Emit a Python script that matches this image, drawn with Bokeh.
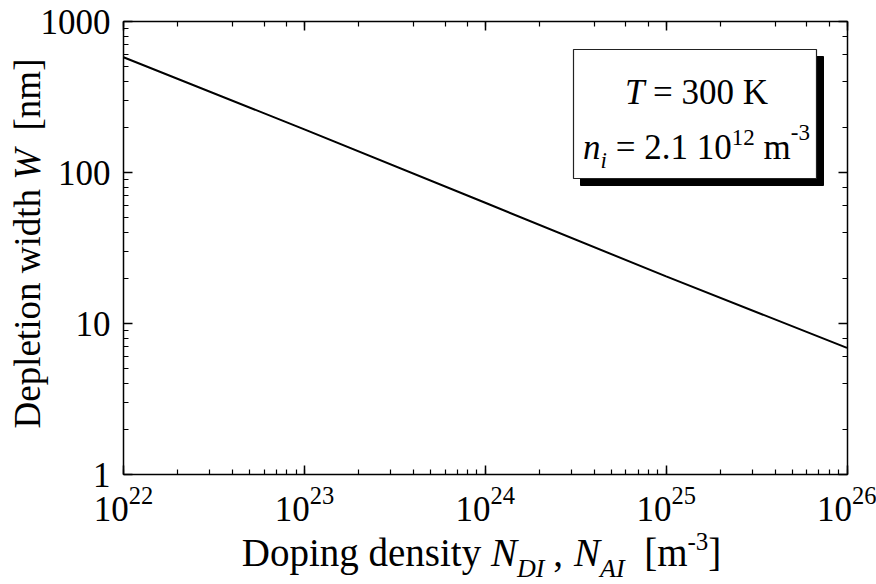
import math
from bokeh.plotting import figure
from bokeh.models import (LogAxis, Label, BoxAnnotation, PrintfTickFormatter,
                          CustomJSTickFormatter, ColumnDataSource, Range1d)
from bokeh.embed import file_html
from bokeh.resources import INLINE

# ---- data ----
doping = [1e22, 1e23, 1e24, 1e25, 1e26]          # N_DI, N_AI [m^-3]
width_nm = [580, 193, 63, 20.5, 6.9]              # depletion width W [nm]
x_lim = [1e22, 1e26]
y_lim = [1, 1000]

FONT = "Liberation Serif"

# ---- layout: canvas and the pixel box of the plotting area ----
CW, CH = 876, 584
PL, PR, PT, PB = 123, 846.5, 21, 474

lx0, lx1 = math.log10(x_lim[0]), math.log10(x_lim[1])
ly0, ly1 = math.log10(y_lim[0]), math.log10(y_lim[1])
pdx = (PR - PL) / (lx1 - lx0)
pdy = (PB - PT) / (ly1 - ly0)
xr = Range1d(10 ** (lx0 - PL / pdx), 10 ** (lx1 + (CW - PR) / pdx))
yr = Range1d(10 ** (ly0 - (CH - PB) / pdy), 10 ** (ly1 + PT / pdy))

p = figure(width=CW, height=CH, x_axis_type="log", y_axis_type="log",
           x_range=xr, y_range=yr, output_backend="svg", toolbar_location=None,
           min_border=0)
p.title.visible = False
p.background_fill_color = "white"
p.border_fill_color = "white"
p.grid.visible = False
p.outline_line_color = None

src = ColumnDataSource(dict(x=doping, y=width_nm))
p.line("x", "y", source=src, line_color="black", line_width=2)

def style_axis(ax, labels=True):
    ax.axis_line_color = "black"
    ax.axis_line_width = 1.5
    ax.major_tick_in = 9
    ax.major_tick_out = 0
    ax.minor_tick_in = 5
    ax.minor_tick_out = 0
    ax.major_tick_line_color = "black"
    ax.minor_tick_line_color = "black"
    ax.major_tick_line_width = 1.5
    ax.minor_tick_line_width = 1.2
    if labels:
        ax.major_label_text_font = FONT
        ax.major_label_text_font_size = "35px"
        ax.major_label_text_color = "black"
    else:
        ax.formatter = CustomJSTickFormatter(code="return ''")
        ax.major_label_text_font_size = "1px"
        ax.major_label_standoff = 0

xa = p.xaxis[0]
ya = p.yaxis[0]
style_axis(xa)
style_axis(ya)
xa.fixed_location = y_lim[0]
xa.bounds = (x_lim[0], x_lim[1])
xa.major_label_standoff = 12
ya.fixed_location = x_lim[0]
ya.bounds = (y_lim[0], y_lim[1])
ya.major_label_standoff = 13
ya.formatter = PrintfTickFormatter(format="%d")

top = LogAxis(fixed_location=y_lim[1], bounds=(x_lim[0], x_lim[1]))
right = LogAxis(fixed_location=x_lim[1], bounds=(y_lim[0], y_lim[1]))
style_axis(top, labels=False)
style_axis(right, labels=False)
p.add_layout(top, "above")
p.add_layout(right, "right")

# ---- rich text helpers (Times-like advance widths, per 1000 em) ----
REG = {' ': 250, ',': 250, '-': 333, '.': 250, '[': 333, ']': 333, '=': 564,
       'D': 722, 'K': 722, 'W': 944, 'a': 444, 'd': 500, 'e': 444, 'g': 500, 'h': 500,
       'i': 278, 'l': 278, 'm': 778, 'n': 500, 'o': 500, 'p': 500, 's': 389, 't': 278,
       'w': 722, 'y': 500}
ITA = {'N': 667, 'D': 722, 'I': 333, 'A': 611, 'W': 833, 'T': 556, 'n': 500, 'i': 278}

def tw(text, size, italic):
    table = ITA if italic else REG
    return sum(table.get(c, 500) for c in text) * size / 1000.0

BASE_FIX = 0.38  # observed shift of Bokeh's alphabetic anchor, in em

def rich(pieces, center, base, vertical=False):
    """pieces: (text, size, italic, raise, gap). center along the text direction,
    base = baseline; both in canvas pixels (y measured downwards)."""
    total = sum(tw(t, s, it) + g for t, s, it, r, g in pieces)
    pos = center - total / 2.0 if not vertical else center + total / 2.0
    for t, s, it, r, g in pieces:
        lead = tw(t[:len(t) - len(t.lstrip())], s, it) + g
        txt = t.strip()
        fix = BASE_FIX * s
        if vertical:
            pos -= lead
            lab = Label(x=base - r - fix, y=CH - pos, x_units="screen", y_units="screen",
                        angle=math.pi / 2)
            pos -= tw(t, s, it) - lead + g
        else:
            pos += lead
            lab = Label(x=pos, y=CH - base + r + fix, x_units="screen", y_units="screen")
            pos += tw(t, s, it) - lead + g
        lab.text = txt
        lab.text_font = FONT
        lab.text_font_size = f"{s}px"
        lab.text_font_style = "italic" if it else "normal"
        lab.text_color = "black"
        lab.text_align = "left"
        lab.text_baseline = "alphabetic"
        p.add_layout(lab)

# x-axis label
rich([("Doping density ", 39, False, 0, 0),
      ("N", 39, True, 0, 0), ("DI", 26, True, -11, 0),
      (",", 39, False, 0, 9), ("N", 39, True, 0, 11), ("AI", 26, True, -11, 0),
      ("  [m", 39, False, 0, 0), ("-3", 25, False, 17, 0), ("]", 39, False, 0, 0)],
     center=481, base=567)

# y-axis label
rich([("Depletion width ", 37, False, 0, 0), ("W", 37, True, 0, 0),
      ("  [nm]", 37, False, 0, 0)],
     center=243, base=41, vertical=True)

# annotation box with shadow (canvas pixels, y up)
shadow = BoxAnnotation(left=580, right=823, top=CH - 56, bottom=CH - 185,
                       left_units="screen", right_units="screen",
                       top_units="screen", bottom_units="screen",
                       fill_color="black", fill_alpha=1.0, line_color="black", line_alpha=1.0)
box = BoxAnnotation(left=573, right=816, top=CH - 49, bottom=CH - 178,
                    left_units="screen", right_units="screen",
                    top_units="screen", bottom_units="screen",
                    fill_color="white", fill_alpha=1.0, line_color="#222222", line_alpha=1.0,
                    line_width=1.2)
p.add_layout(shadow)
p.add_layout(box)

rich([("T", 35, True, 0, 0), (" = 300 K", 35, False, 0, 0)], center=696, base=105)
rich([("n", 35, True, 0, 0), ("i", 23, True, -9, 0), (" = 2.1 10", 35, False, 0, 0),
      ("12", 23, False, 14, 0), (" m", 35, False, 0, 0), ("-3", 23, False, 19, 0)],
     center=696, base=160)

open("out.html", "w").write(file_html(p, INLINE))
